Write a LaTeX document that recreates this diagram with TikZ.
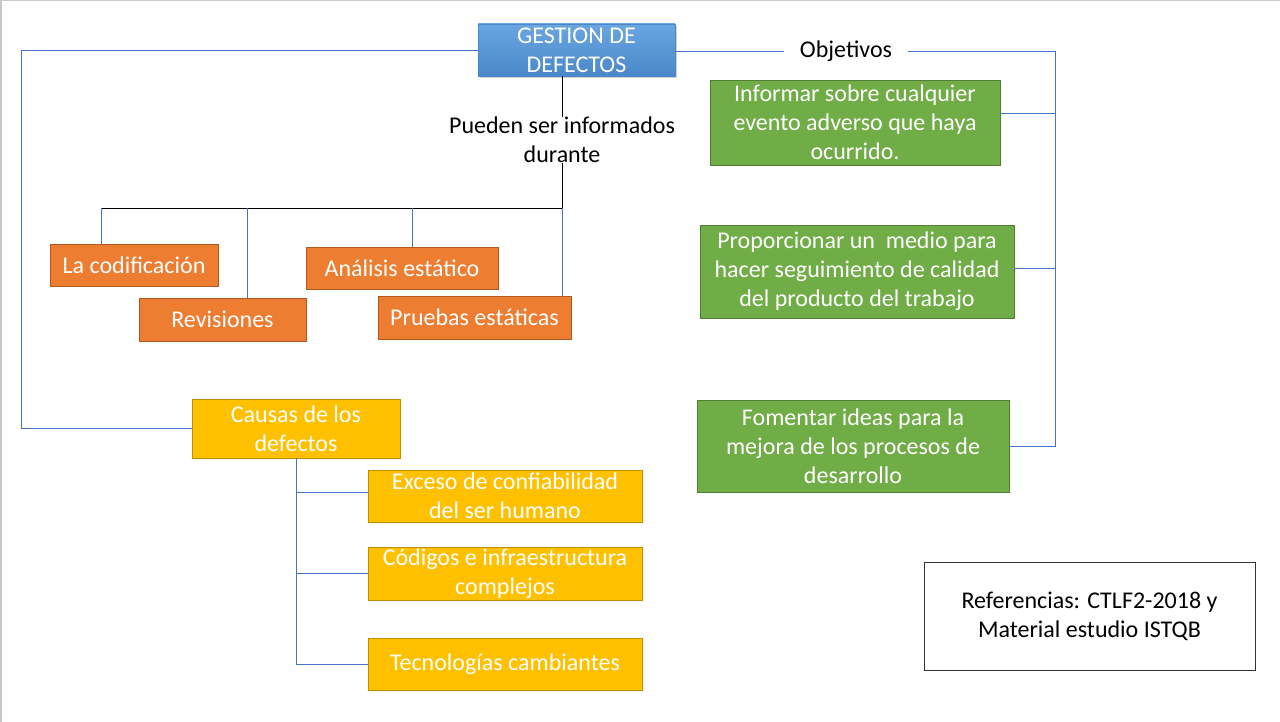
\documentclass[tikz,border=0pt]{standalone}
\usepackage{fontspec}
\setmainfont{Carlito}
\usetikzlibrary{shadows}
\definecolor{orangeF}{HTML}{ED7D31}
\definecolor{orangeD}{HTML}{B0591E}
\definecolor{goldF}{HTML}{FFC000}
\definecolor{goldD}{HTML}{C09000}
\definecolor{greenF}{HTML}{70AD47}
\definecolor{greenD}{HTML}{507E32}
\definecolor{blueT}{HTML}{6AA6E0}
\definecolor{blueB}{HTML}{4A88CA}
\definecolor{lineB}{HTML}{4472C4}
\definecolor{frameG}{HTML}{C8C8C8}
\begin{document}
\begin{tikzpicture}[x=1pt,y=-1pt,
  every node/.style={font=\fontsize{24}{29}\selectfont, align=center, inner sep=0pt},
  box/.style={draw, line width=0.8pt, text=white},
  obox/.style={box, fill=orangeF, draw=orangeD},
  gbox/.style={box, fill=goldF, draw=goldD},
  grbox/.style={box, fill=greenF, draw=greenD},
  bl/.style={draw=lineB, line width=0.9pt},
  bk/.style={draw=black, line width=0.8pt}]
\useasboundingbox (0,0) rectangle (1280,722);
\fill[white] (0,0) rectangle (1280,722);
\draw[frameG, line width=1.5pt] (0.75,722) -- (0.75,0.75) -- (1280,0.75);

% main box
\node[draw=blueB, line width=0.5pt, top color=blueT, bottom color=blueB, text=white,
  minimum width=197pt, minimum height=52pt,
  drop shadow={opacity=0.35, shadow xshift=1.5pt, shadow yshift=-2.5pt}] (gest) at (576.5,50) {GESTION DE\\DEFECTOS};

\node[text=black] (pued) at (562,140) {Pueden ser informados\\durante};
\node[text=black, inner xsep=16pt, inner ysep=4pt] (obj) at (846,51) {Objetivos};

% orange boxes
\node[obox, minimum width=168pt, minimum height=42pt] (cod) at (134,265) {La codificación};
\node[obox, minimum width=167pt, minimum height=43pt] (rev) at (222.5,319.5) {Revisiones};
\node[obox, minimum width=192pt, minimum height=42pt] (ana) at (402,268) {Análisis estático};
\node[obox, minimum width=193pt, minimum height=43pt] (pru) at (474.5,317.5) {Pruebas estáticas};

% gold boxes
\node[gbox, minimum width=208pt, minimum height=59pt] (cau) at (296,428.5) {Causas de los\\defectos};
\node[gbox, minimum width=274pt, minimum height=52pt] (exc) at (505,496) {Exceso de confiabilidad\\del ser humano};
\node[gbox, minimum width=274pt, minimum height=53pt] (cdi) at (505,573.5) {Códigos e infraestructura\\complejos};
\node[gbox, minimum width=274pt, minimum height=52pt] (tec) at (505,664) {Tecnologías cambiantes};

% green boxes
\node[grbox, minimum width=290pt, minimum height=85pt] (inf) at (855,122.5) {Informar sobre cualquier\\evento adverso que haya\\ocurrido.};
\node[grbox, minimum width=314pt, minimum height=93pt] (pro) at (857,271.5) {Proporcionar un \ medio para\\hacer seguimiento de calidad\\del producto del trabajo};
\node[grbox, minimum width=312pt, minimum height=92pt] (fom) at (853,446) {Fomentar ideas para la\\mejora de los procesos de\\desarrollo};

% references
\node[draw=black!80, line width=0.9pt, text=black, minimum width=331pt, minimum height=108pt] (ref) at (1089.5,616) {Referencias: CTLF2-2018 y\\Material estudio ISTQB};

% coordinates
\coordinate (L) at (21,50);
\coordinate (R) at (1055,51);
\coordinate (Rb) at (1055,447);
\coordinate (H) at (562,208);
\coordinate (H1) at (101,208);
\coordinate (H2) at (247,208);
\coordinate (H3) at (412,208);

% left blue connector
\draw[bl] (gest.west) -- (L) |- (cau.west);
% right blue connectors
\draw[bl] (gest.east |- obj.west) -- (obj.west);
\draw[bl] (obj.east) -- (R) -- (Rb);
\draw[bl] (inf.east |- 0,113) -- (R |- 0,113);
\draw[bl] (pro.east |- 0,268) -- (R |- 0,268);
\draw[bl] (fom.east |- 0,446) -- (R |- 0,446);

% black tree
\draw[bk] (gest.south -| pued.north) -- (pued.north);
\draw[bk] (pued.south) -- (H) -- (H1);
\draw[bl] (H1) -- (H1 |- cod.north);
\draw[bl] (H2) -- (H2 |- rev.north);
\draw[bl] (H3) -- (H3 |- ana.north);
\draw[bl] (H) -- (H |- pru.north);

% causes tree
\draw[bl] (cau.south) -- (cau.south |- tec.west) -- (tec.west);
\draw[bl] (cau.south |- 0,492) -- (exc.west |- 0,492);
\draw[bl] (cau.south |- cdi.west) -- (cdi.west);
\end{tikzpicture}
\end{document}
